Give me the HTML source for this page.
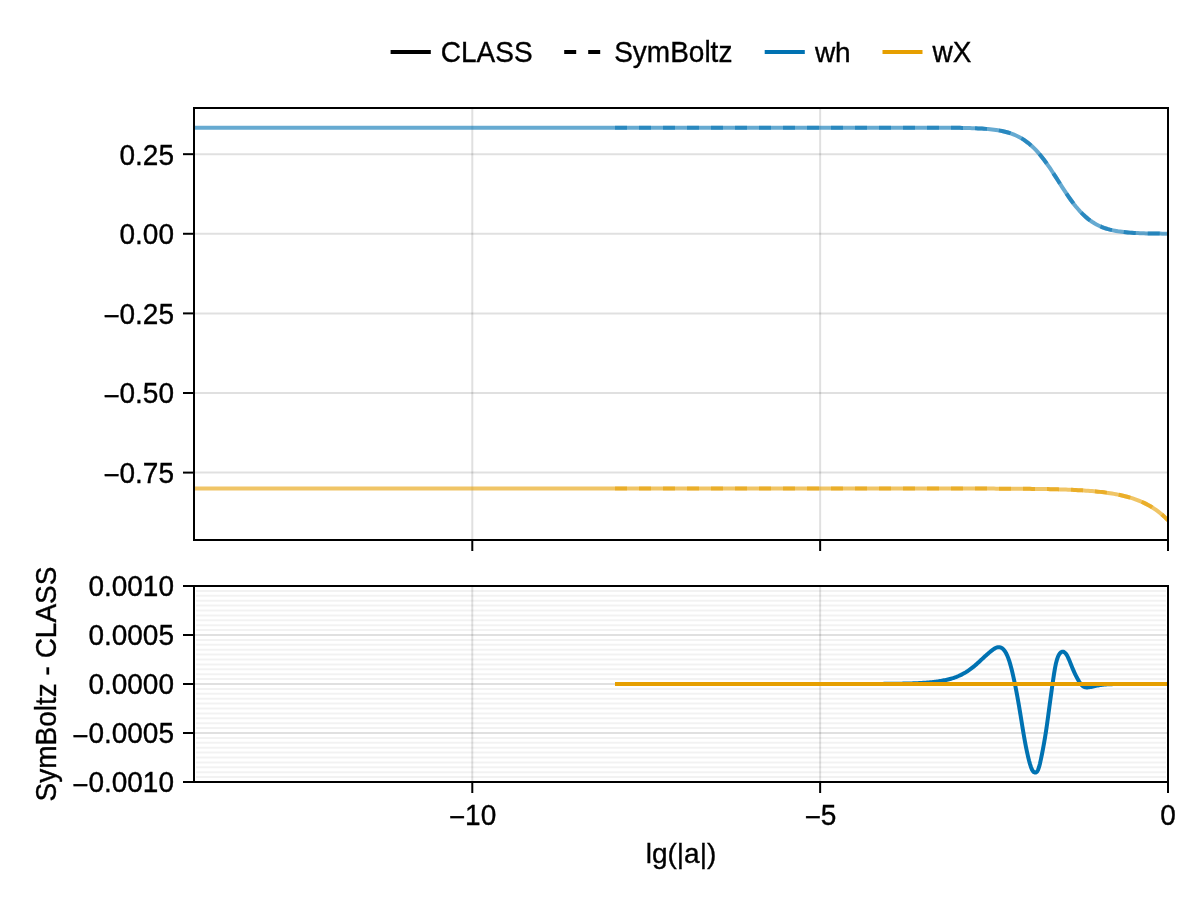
<!DOCTYPE html>
<html lang="en"><head><meta charset="utf-8"><title>wh / wX : CLASS vs SymBoltz</title>
<style>html,body{margin:0;padding:0;background:#fff}svg{display:block}text{font-family:"Liberation Sans",Arial,Helvetica,sans-serif;font-size:28px;fill:#000;stroke:#000;stroke-width:0.35px}</style></head><body>
<svg width="1200" height="900" viewBox="0 0 1200 900">
<rect width="1200" height="900" fill="#fff"/>
<defs><clipPath id="c1"><rect x="194" y="108" width="974" height="432"/></clipPath><clipPath id="c2"><rect x="194" y="586" width="974" height="196"/></clipPath></defs>
<g id="legend" stroke-width="4" fill="none">
<line x1="390.6" x2="430.8" y1="52" y2="52" stroke="#000"/>
<line x1="564.2" x2="604.2" y1="52" y2="52" stroke="#000" stroke-dasharray="12 12"/>
<line x1="764.7" x2="804.8" y1="52" y2="52" stroke="#0072B2"/>
<line x1="882.5" x2="922.5" y1="52" y2="52" stroke="#E69F00"/>
</g>
<text transform="translate(440.8 62) rotate(0.02) scale(1 1.04)">CLASS</text>
<text transform="translate(614.2 62) rotate(0.02) scale(1 1.04)">SymBoltz</text>
<text transform="translate(814.9 62) rotate(0.02) scale(1 1)">wh</text>
<text transform="translate(932.6 62) rotate(0.02) scale(1 1.04)">wX</text>
<g id="ax1">
<g stroke="rgba(0,0,0,0.12)" stroke-width="2">
<line x1="472.29" x2="472.29" y1="109" y2="539"/>
<line x1="820.14" x2="820.14" y1="109" y2="539"/>
<line x1="195" x2="1167" y1="154.17" y2="154.17"/>
<line x1="195" x2="1167" y1="233.78" y2="233.78"/>
<line x1="195" x2="1167" y1="313.39" y2="313.39"/>
<line x1="195" x2="1167" y1="393" y2="393"/>
<line x1="195" x2="1167" y1="472.6" y2="472.6"/>
</g>
<g clip-path="url(#c1)" fill="none" stroke-width="4" stroke-opacity="0.6">
<path d="M194 127.64 L214 127.64 L234 127.64 L254 127.64 L274 127.64 L294 127.64 L314 127.64 L334 127.64 L354 127.64 L374 127.64 L394 127.64 L414 127.64 L434 127.64 L454 127.64 L474 127.64 L494 127.64 L514 127.64 L534 127.64 L554 127.64 L574 127.64 L594 127.64 L614 127.64 L634 127.64 L654 127.64 L674 127.64 L694 127.64 L714 127.64 L734 127.64 L754 127.64 L774 127.64 L794 127.64 L814 127.64 L834 127.64 L854 127.64 L874 127.64 L894 127.64 L900 127.64 L902 127.64 L904 127.64 L906 127.64 L908 127.64 L910 127.65 L912 127.65 L914 127.65 L916 127.65 L918 127.65 L920 127.65 L922 127.66 L924 127.66 L926 127.66 L928 127.66 L930 127.67 L932 127.67 L934 127.68 L936 127.68 L938 127.69 L940 127.7 L942 127.71 L944 127.72 L946 127.73 L948 127.74 L950 127.76 L952 127.77 L954 127.79 L956 127.81 L958 127.84 L960 127.87 L962 127.9 L964 127.94 L966 127.98 L968 128.03 L970 128.08 L972 128.14 L974 128.21 L976 128.29 L978 128.38 L980 128.49 L982 128.6 L984 128.73 L986 128.88 L988 129.05 L990 129.25 L992 129.46 L994 129.71 L996 129.99 L998 130.3 L1000 130.65 L1002 131.04 L1004 131.49 L1006 131.98 L1008 132.54 L1010 133.16 L1012 133.85 L1014 134.63 L1016 135.48 L1018 136.43 L1020 137.47 L1022 138.63 L1024 139.89 L1026 141.28 L1028 142.79 L1030 144.43 L1032 146.21 L1034 148.12 L1036 150.18 L1038 152.37 L1040 154.71 L1042 157.17 L1044 159.77 L1046 162.49 L1048 165.31 L1050 168.23 L1052 171.24 L1054 174.3 L1056 177.41 L1058 180.55 L1060 183.69 L1062 186.81 L1064 189.9 L1066 192.93 L1068 195.89 L1070 198.75 L1072 201.51 L1074 204.16 L1076 206.67 L1078 209.06 L1080 211.3 L1082 213.39 L1084 215.34 L1086 217.15 L1088 218.82 L1090 220.36 L1092 221.76 L1094 223.04 L1096 224.2 L1098 225.25 L1100 226.19 L1102 227.05 L1104 227.81 L1106 228.5 L1108 229.11 L1110 229.65 L1112 230.14 L1114 230.57 L1116 230.95 L1118 231.29 L1120 231.58 L1122 231.85 L1124 232.08 L1126 232.29 L1128 232.47 L1130 232.63 L1132 232.77 L1134 232.89 L1136 233 L1138 233.1 L1140 233.18 L1142 233.25 L1144 233.32 L1146 233.38 L1148 233.43 L1150 233.47 L1152 233.51 L1154 233.54 L1156 233.57 L1158 233.6 L1160 233.62 L1162 233.64 L1164 233.66 L1166 233.67 L1168 233.69" stroke="#0072B2"/>
<path d="M194 488.52 L214 488.52 L234 488.52 L254 488.52 L274 488.52 L294 488.52 L314 488.52 L334 488.52 L354 488.52 L374 488.52 L394 488.52 L414 488.52 L434 488.52 L454 488.52 L474 488.52 L494 488.52 L514 488.52 L534 488.52 L554 488.52 L574 488.52 L594 488.52 L614 488.52 L634 488.52 L654 488.52 L674 488.52 L694 488.52 L714 488.52 L734 488.52 L754 488.52 L774 488.52 L794 488.52 L814 488.52 L834 488.52 L854 488.52 L874 488.53 L894 488.53 L900 488.53 L902 488.53 L904 488.53 L906 488.53 L908 488.53 L910 488.53 L912 488.53 L914 488.53 L916 488.53 L918 488.53 L920 488.53 L922 488.53 L924 488.53 L926 488.53 L928 488.54 L930 488.54 L932 488.54 L934 488.54 L936 488.54 L938 488.54 L940 488.54 L942 488.54 L944 488.54 L946 488.54 L948 488.55 L950 488.55 L952 488.55 L954 488.55 L956 488.55 L958 488.55 L960 488.56 L962 488.56 L964 488.56 L966 488.56 L968 488.57 L970 488.57 L972 488.57 L974 488.58 L976 488.58 L978 488.58 L980 488.59 L982 488.59 L984 488.6 L986 488.6 L988 488.61 L990 488.61 L992 488.62 L994 488.62 L996 488.63 L998 488.64 L1000 488.65 L1002 488.65 L1004 488.66 L1006 488.67 L1008 488.68 L1010 488.69 L1012 488.71 L1014 488.72 L1016 488.73 L1018 488.75 L1020 488.76 L1022 488.78 L1024 488.8 L1026 488.81 L1028 488.83 L1030 488.85 L1032 488.88 L1034 488.9 L1036 488.93 L1038 488.95 L1040 488.98 L1042 489.02 L1044 489.05 L1046 489.09 L1048 489.12 L1050 489.17 L1052 489.21 L1054 489.26 L1056 489.31 L1058 489.36 L1060 489.42 L1062 489.48 L1064 489.54 L1066 489.61 L1068 489.69 L1070 489.77 L1072 489.85 L1074 489.94 L1076 490.04 L1078 490.14 L1080 490.25 L1082 490.37 L1084 490.5 L1086 490.63 L1088 490.78 L1090 490.93 L1092 491.1 L1094 491.27 L1096 491.46 L1098 491.66 L1100 491.88 L1102 492.11 L1104 492.35 L1106 492.62 L1108 492.9 L1110 493.19 L1112 493.51 L1114 493.86 L1116 494.22 L1118 494.61 L1120 495.03 L1122 495.47 L1124 495.95 L1126 496.45 L1128 497 L1130 497.58 L1132 498.2 L1134 498.86 L1136 499.57 L1138 500.32 L1140 501.13 L1142 501.99 L1144 502.91 L1146 503.9 L1148 504.95 L1150 506.07 L1152 507.28 L1154 508.56 L1156 509.93 L1158 511.39 L1160 512.96 L1162 514.63 L1164 516.42 L1166 518.33 L1168 520.37" stroke="#E69F00"/>
<path d="M615 127.64 L635 127.64 L655 127.64 L675 127.64 L695 127.64 L715 127.64 L735 127.64 L755 127.64 L775 127.64 L795 127.64 L815 127.64 L835 127.64 L855 127.64 L875 127.64 L895 127.64 L900 127.64 L902 127.64 L904 127.64 L906 127.64 L908 127.64 L910 127.65 L912 127.65 L914 127.65 L916 127.65 L918 127.65 L920 127.65 L922 127.66 L924 127.66 L926 127.66 L928 127.66 L930 127.67 L932 127.67 L934 127.68 L936 127.68 L938 127.69 L940 127.7 L942 127.71 L944 127.72 L946 127.73 L948 127.74 L950 127.76 L952 127.77 L954 127.79 L956 127.81 L958 127.84 L960 127.87 L962 127.9 L964 127.94 L966 127.98 L968 128.03 L970 128.08 L972 128.14 L974 128.21 L976 128.29 L978 128.38 L980 128.49 L982 128.6 L984 128.73 L986 128.88 L988 129.05 L990 129.25 L992 129.46 L994 129.71 L996 129.99 L998 130.3 L1000 130.65 L1002 131.04 L1004 131.49 L1006 131.98 L1008 132.54 L1010 133.16 L1012 133.85 L1014 134.63 L1016 135.48 L1018 136.43 L1020 137.47 L1022 138.63 L1024 139.89 L1026 141.28 L1028 142.79 L1030 144.43 L1032 146.21 L1034 148.12 L1036 150.18 L1038 152.37 L1040 154.71 L1042 157.17 L1044 159.77 L1046 162.49 L1048 165.31 L1050 168.23 L1052 171.24 L1054 174.3 L1056 177.41 L1058 180.55 L1060 183.69 L1062 186.81 L1064 189.9 L1066 192.93 L1068 195.89 L1070 198.75 L1072 201.51 L1074 204.16 L1076 206.67 L1078 209.06 L1080 211.3 L1082 213.39 L1084 215.34 L1086 217.15 L1088 218.82 L1090 220.36 L1092 221.76 L1094 223.04 L1096 224.2 L1098 225.25 L1100 226.19 L1102 227.05 L1104 227.81 L1106 228.5 L1108 229.11 L1110 229.65 L1112 230.14 L1114 230.57 L1116 230.95 L1118 231.29 L1120 231.58 L1122 231.85 L1124 232.08 L1126 232.29 L1128 232.47 L1130 232.63 L1132 232.77 L1134 232.89 L1136 233 L1138 233.1 L1140 233.18 L1142 233.25 L1144 233.32 L1146 233.38 L1148 233.43 L1150 233.47 L1152 233.51 L1154 233.54 L1156 233.57 L1158 233.6 L1160 233.62 L1162 233.64 L1164 233.66 L1166 233.67 L1168 233.69" stroke="#0072B2" stroke-dasharray="12 12"/>
<path d="M615 488.52 L635 488.52 L655 488.52 L675 488.52 L695 488.52 L715 488.52 L735 488.52 L755 488.52 L775 488.52 L795 488.52 L815 488.52 L835 488.52 L855 488.53 L875 488.53 L895 488.53 L900 488.53 L902 488.53 L904 488.53 L906 488.53 L908 488.53 L910 488.53 L912 488.53 L914 488.53 L916 488.53 L918 488.53 L920 488.53 L922 488.53 L924 488.53 L926 488.53 L928 488.54 L930 488.54 L932 488.54 L934 488.54 L936 488.54 L938 488.54 L940 488.54 L942 488.54 L944 488.54 L946 488.54 L948 488.55 L950 488.55 L952 488.55 L954 488.55 L956 488.55 L958 488.55 L960 488.56 L962 488.56 L964 488.56 L966 488.56 L968 488.57 L970 488.57 L972 488.57 L974 488.58 L976 488.58 L978 488.58 L980 488.59 L982 488.59 L984 488.6 L986 488.6 L988 488.61 L990 488.61 L992 488.62 L994 488.62 L996 488.63 L998 488.64 L1000 488.65 L1002 488.65 L1004 488.66 L1006 488.67 L1008 488.68 L1010 488.69 L1012 488.71 L1014 488.72 L1016 488.73 L1018 488.75 L1020 488.76 L1022 488.78 L1024 488.8 L1026 488.81 L1028 488.83 L1030 488.85 L1032 488.88 L1034 488.9 L1036 488.93 L1038 488.95 L1040 488.98 L1042 489.02 L1044 489.05 L1046 489.09 L1048 489.12 L1050 489.17 L1052 489.21 L1054 489.26 L1056 489.31 L1058 489.36 L1060 489.42 L1062 489.48 L1064 489.54 L1066 489.61 L1068 489.69 L1070 489.77 L1072 489.85 L1074 489.94 L1076 490.04 L1078 490.14 L1080 490.25 L1082 490.37 L1084 490.5 L1086 490.63 L1088 490.78 L1090 490.93 L1092 491.1 L1094 491.27 L1096 491.46 L1098 491.66 L1100 491.88 L1102 492.11 L1104 492.35 L1106 492.62 L1108 492.9 L1110 493.19 L1112 493.51 L1114 493.86 L1116 494.22 L1118 494.61 L1120 495.03 L1122 495.47 L1124 495.95 L1126 496.45 L1128 497 L1130 497.58 L1132 498.2 L1134 498.86 L1136 499.57 L1138 500.32 L1140 501.13 L1142 501.99 L1144 502.91 L1146 503.9 L1148 504.95 L1150 506.07 L1152 507.28 L1154 508.56 L1156 509.93 L1158 511.39 L1160 512.96 L1162 514.63 L1164 516.42 L1166 518.33 L1168 520.37" stroke="#E69F00" stroke-dasharray="12 12"/>
</g>
<rect x="194" y="108" width="974" height="432" fill="none" stroke="#000" stroke-width="2"/>
<g stroke="#000" stroke-width="2">
<line x1="472.29" x2="472.29" y1="541" y2="551"/>
<line x1="820.14" x2="820.14" y1="541" y2="551"/>
<line x1="1168" x2="1168" y1="541" y2="551"/>
<line x1="183" x2="193" y1="154.17" y2="154.17"/>
<line x1="183" x2="193" y1="233.78" y2="233.78"/>
<line x1="183" x2="193" y1="313.39" y2="313.39"/>
<line x1="183" x2="193" y1="393" y2="393"/>
<line x1="183" x2="193" y1="472.6" y2="472.6"/>
</g>
<text transform="translate(174 164.57) rotate(0.02) scale(1 1.04)" text-anchor="end">0.25</text>
<text transform="translate(174 244.18) rotate(0.02) scale(1 1.04)" text-anchor="end">0.00</text>
<text transform="translate(174 323.79) rotate(0.02) scale(1 1.04)" text-anchor="end" dy="2.4 -2.4">−0.25</text>
<text transform="translate(174 403.39) rotate(0.02) scale(1 1.04)" text-anchor="end" dy="2.4 -2.4">−0.50</text>
<text transform="translate(174 483) rotate(0.02) scale(1 1.04)" text-anchor="end" dy="2.4 -2.4">−0.75</text>
</g>
<g id="ax2">
<g stroke="rgba(0,0,0,0.05)" stroke-width="2">
<line x1="196" x2="1166" y1="777.1" y2="777.1"/>
<line x1="196" x2="1166" y1="772.2" y2="772.2"/>
<line x1="196" x2="1166" y1="767.3" y2="767.3"/>
<line x1="196" x2="1166" y1="762.4" y2="762.4"/>
<line x1="196" x2="1166" y1="757.5" y2="757.5"/>
<line x1="196" x2="1166" y1="752.6" y2="752.6"/>
<line x1="196" x2="1166" y1="747.7" y2="747.7"/>
<line x1="196" x2="1166" y1="742.8" y2="742.8"/>
<line x1="196" x2="1166" y1="737.9" y2="737.9"/>
<line x1="196" x2="1166" y1="728.1" y2="728.1"/>
<line x1="196" x2="1166" y1="723.2" y2="723.2"/>
<line x1="196" x2="1166" y1="718.3" y2="718.3"/>
<line x1="196" x2="1166" y1="713.4" y2="713.4"/>
<line x1="196" x2="1166" y1="708.5" y2="708.5"/>
<line x1="196" x2="1166" y1="703.6" y2="703.6"/>
<line x1="196" x2="1166" y1="698.7" y2="698.7"/>
<line x1="196" x2="1166" y1="693.8" y2="693.8"/>
<line x1="196" x2="1166" y1="688.9" y2="688.9"/>
<line x1="196" x2="1166" y1="679.1" y2="679.1"/>
<line x1="196" x2="1166" y1="674.2" y2="674.2"/>
<line x1="196" x2="1166" y1="669.3" y2="669.3"/>
<line x1="196" x2="1166" y1="664.4" y2="664.4"/>
<line x1="196" x2="1166" y1="659.5" y2="659.5"/>
<line x1="196" x2="1166" y1="654.6" y2="654.6"/>
<line x1="196" x2="1166" y1="649.7" y2="649.7"/>
<line x1="196" x2="1166" y1="644.8" y2="644.8"/>
<line x1="196" x2="1166" y1="639.9" y2="639.9"/>
<line x1="196" x2="1166" y1="630.1" y2="630.1"/>
<line x1="196" x2="1166" y1="625.2" y2="625.2"/>
<line x1="196" x2="1166" y1="620.3" y2="620.3"/>
<line x1="196" x2="1166" y1="615.4" y2="615.4"/>
<line x1="196" x2="1166" y1="610.5" y2="610.5"/>
<line x1="196" x2="1166" y1="605.6" y2="605.6"/>
<line x1="196" x2="1166" y1="600.7" y2="600.7"/>
<line x1="196" x2="1166" y1="595.8" y2="595.8"/>
<line x1="196" x2="1166" y1="590.9" y2="590.9"/>
</g>
<g stroke="rgba(0,0,0,0.12)" stroke-width="2">
<line x1="472.29" x2="472.29" y1="587" y2="781"/>
<line x1="820.14" x2="820.14" y1="587" y2="781"/>
<line x1="195" x2="1167" y1="635" y2="635"/>
<line x1="195" x2="1167" y1="684" y2="684"/>
<line x1="195" x2="1167" y1="733" y2="733"/>
</g>
<g clip-path="url(#c2)" fill="none" stroke-width="4">
<path d="M615 683.88 L700 684 L701 684 L702 684 L703 684 L704 684 L705 684 L706 684 L707 684 L708 684.01 L709 684.01 L710 684.01 L711 684.01 L712 684.01 L713 684.01 L714 684.01 L715 684.01 L716 684.01 L717 684.01 L718 684.01 L719 684.01 L720 684.01 L721 684.01 L722 684.01 L723 684.01 L724 684.01 L725 684.01 L726 684.01 L727 684.01 L728 684.01 L729 684.01 L730 684.01 L731 684.01 L732 684.01 L733 684.01 L734 684.01 L735 684.02 L736 684.02 L737 684.02 L738 684.02 L739 684.02 L740 684.02 L741 684.02 L742 684.02 L743 684.02 L744 684.02 L745 684.02 L746 684.02 L747 684.02 L748 684.02 L749 684.02 L750 684.02 L751 684.02 L752 684.02 L753 684.02 L754 684.02 L755 684.02 L756 684.02 L757 684.02 L758 684.02 L759 684.02 L760 684.02 L761 684.02 L762 684.01 L763 684.01 L764 684.01 L765 684.01 L766 684.01 L767 684.01 L768 684.01 L769 684.01 L770 684.01 L771 684.01 L772 684.01 L773 684.01 L774 684.01 L775 684.01 L776 684.01 L777 684.01 L778 684.01 L779 684.01 L780 684.01 L781 684.01 L782 684.01 L783 684.01 L784 684.01 L785 684.01 L786 684.01 L787 684.01 L788 684.01 L789 684.01 L790 684.01 L791 684 L792 684 L793 684 L794 684 L795 684 L796 684 L797 684 L798 684 L799 684 L800 684 L801 684 L802 684 L803 684 L804 684 L805 684 L806 684 L807 684 L808 684 L809 683.99 L810 683.99 L811 683.99 L812 683.99 L813 683.99 L814 683.99 L815 683.99 L816 683.99 L817 683.99 L818 683.99 L819 683.99 L820 683.99 L821 683.99 L822 683.98 L823 683.98 L824 683.98 L825 683.98 L826 683.98 L827 683.98 L828 683.98 L829 683.98 L830 683.98 L831 683.98 L832 683.98 L833 683.98 L834 683.97 L835 683.97 L836 683.97 L837 683.97 L838 683.97 L839 683.97 L840 683.97 L841 683.97 L842 683.97 L843 683.97 L844 683.97 L845 683.96 L846 683.96 L847 683.96 L848 683.96 L849 683.96 L850 683.96 L851 683.96 L852 683.96 L853 683.96 L854 683.96 L855 683.96 L856 683.95 L857 683.95 L858 683.95 L859 683.95 L860 683.95 L861 683.95 L862 683.95 L863 683.95 L864 683.95 L865 683.94 L866 683.94 L867 683.94 L868 683.94 L869 683.94 L870 683.94 L871 683.93 L872 683.93 L873 683.93 L874 683.93 L875 683.92 L876 683.92 L877 683.91 L878 683.91 L879 683.91 L880 683.9 L881 683.89 L882 683.89 L883 683.88 L884 683.87 L885 683.87 L886 683.86 L887 683.85 L888 683.84 L889 683.83 L890 683.82 L891 683.81 L892 683.8 L893 683.78 L894 683.77 L895 683.76 L896 683.74 L897 683.72 L898 683.71 L899 683.69 L900 683.67 L901 683.65 L902 683.63 L903 683.61 L904 683.58 L905 683.56 L906 683.54 L907 683.51 L908 683.49 L909 683.46 L910 683.44 L911 683.41 L912 683.38 L913 683.35 L914 683.31 L915 683.27 L916 683.23 L917 683.19 L918 683.14 L919 683.08 L920 683.02 L921 682.96 L922 682.9 L923 682.83 L924 682.77 L925 682.7 L926 682.63 L927 682.56 L928 682.49 L929 682.41 L930 682.33 L931 682.24 L932 682.14 L933 682.03 L934 681.92 L935 681.79 L936 681.66 L937 681.51 L938 681.36 L939 681.2 L940 681.04 L941 680.87 L942 680.7 L943 680.52 L944 680.34 L945 680.14 L946 679.94 L947 679.73 L948 679.5 L949 679.26 L950 679 L951 678.72 L952 678.42 L953 678.11 L954 677.77 L955 677.41 L956 677.04 L957 676.64 L958 676.23 L959 675.79 L960 675.34 L961 674.87 L962 674.37 L963 673.85 L964 673.3 L965 672.73 L966 672.14 L967 671.51 L968 670.85 L969 670.17 L970 669.46 L971 668.72 L972 667.95 L973 667.16 L974 666.34 L975 665.5 L976 664.63 L977 663.74 L978 662.83 L979 661.91 L980 660.98 L981 660.05 L982 659.11 L983 658.18 L984 657.25 L985 656.33 L986 655.43 L987 654.53 L988 653.66 L989 652.8 L990 651.97 L991 651.15 L992 650.37 L993 649.62 L994 648.92 L995 648.31 L996 647.81 L997 647.43 L998 647.19 L999 647.14 L1000 647.27 L1001 647.61 L1002 648.17 L1003 648.96 L1004 650.01 L1005 651.35 L1006 653.01 L1007 655.02 L1008 657.42 L1009 660.21 L1010 663.39 L1011 666.94 L1012 670.86 L1013 675.1 L1014 679.62 L1015 684.39 L1016 689.37 L1017 694.59 L1018 700.05 L1019 705.8 L1020 711.82 L1021 718 L1022 724.22 L1023 730.34 L1024 736.24 L1025 741.81 L1026 747.04 L1027 751.91 L1028 756.4 L1029 760.49 L1030 764.13 L1031 767.2 L1032 769.61 L1033 771.27 L1034 772.23 L1035 772.59 L1036 772.45 L1037 771.67 L1038 769.99 L1039 767.2 L1040 763.41 L1041 758.92 L1042 754 L1043 748.88 L1044 743.48 L1045 737.69 L1046 731.36 L1047 724.47 L1048 717.19 L1049 709.73 L1050 702.29 L1051 694.97 L1052 687.79 L1053 680.76 L1054 674.08 L1055 668.1 L1056 663.2 L1057 659.45 L1058 656.67 L1059 654.66 L1060 653.22 L1061 652.27 L1062 651.77 L1063 651.7 L1064 652.02 L1065 652.75 L1066 653.88 L1067 655.43 L1068 657.36 L1069 659.59 L1070 662.01 L1071 664.52 L1072 667 L1073 669.38 L1074 671.64 L1075 673.79 L1076 675.83 L1077 677.78 L1078 679.63 L1079 681.35 L1080 682.91 L1081 684.25 L1082 685.35 L1083 686.19 L1084 686.8 L1085 687.18 L1086 687.38 L1087 687.43 L1088 687.38 L1089 687.27 L1090 687.12 L1091 686.93 L1092 686.72 L1093 686.5 L1094 686.28 L1095 686.07 L1096 685.86 L1097 685.66 L1098 685.48 L1099 685.3 L1100 685.14 L1101 684.99 L1102 684.86 L1103 684.73 L1104 684.62 L1105 684.53 L1106 684.44 L1107 684.37 L1108 684.3 L1109 684.24 L1110 684.2 L1111 684.16 L1112 684.13 L1113 684.11 L1114 684.09 L1115 684.07 L1116 684.06 L1117 684.06 L1118 684.05 L1119 684.05 L1120 684.05 L1121 684.05 L1122 684.05 L1123 684.04 L1124 684.04 L1125 684.04 L1126 684.04 L1127 684.04 L1128 684.03 L1129 684.03 L1130 684.03 L1131 684.02 L1132 684.02 L1133 684.02 L1134 684.02 L1135 684.01 L1136 684.01 L1137 684.01 L1138 684.01 L1139 684 L1140 684 L1141 684 L1142 684 L1143 683.99 L1144 683.99 L1145 683.99 L1146 683.99 L1147 683.98 L1148 683.98 L1149 683.98 L1150 683.98 L1151 683.98 L1152 683.98 L1153 683.98 L1154 683.98 L1155 683.98 L1156 683.98 L1157 683.98 L1158 683.98 L1159 683.98 L1160 683.98 L1161 683.98 L1162 683.98 L1163 683.98 L1164 683.99 L1165 683.99 L1166 683.99 L1167 684 L1168 684" stroke="#0072B2" stroke-linejoin="round"/>
<path d="M615 684 L1168 684" stroke="#E69F00"/>
</g>
<rect x="194" y="586" width="974" height="196" fill="none" stroke="#000" stroke-width="2"/>
<g stroke="#000" stroke-width="2">
<line x1="472.29" x2="472.29" y1="783" y2="793"/>
<line x1="820.14" x2="820.14" y1="783" y2="793"/>
<line x1="1168" x2="1168" y1="783" y2="793"/>
<line x1="183" x2="193" y1="586" y2="586"/>
<line x1="183" x2="193" y1="635" y2="635"/>
<line x1="183" x2="193" y1="684" y2="684"/>
<line x1="183" x2="193" y1="733" y2="733"/>
<line x1="183" x2="193" y1="782" y2="782"/>
</g>
<text transform="translate(174 596.4) rotate(0.02) scale(1 1.04)" text-anchor="end">0.0010</text>
<text transform="translate(174 645.4) rotate(0.02) scale(1 1.04)" text-anchor="end">0.0005</text>
<text transform="translate(174 694.4) rotate(0.02) scale(1 1.04)" text-anchor="end">0.0000</text>
<text transform="translate(174 743.4) rotate(0.02) scale(1 1.04)" text-anchor="end" dy="2.4 -2.4">−0.0005</text>
<text transform="translate(174 792.4) rotate(0.02) scale(1 1.04)" text-anchor="end" dy="2.4 -2.4">−0.0010</text>
<text transform="translate(472.49 824.7) rotate(0.02) scale(1 1.04)" text-anchor="middle" dy="2.4 -2.4">−10</text>
<text transform="translate(820.35 824.7) rotate(0.02) scale(1 1.04)" text-anchor="middle" dy="2.4 -2.4">−5</text>
<text transform="translate(1168 824.7) rotate(0.02) scale(1 1.04)" text-anchor="middle">0</text>
<text transform="translate(681 863) rotate(0.02) scale(1 1)" text-anchor="middle">lg(|a|)</text>
<text transform="translate(56 684) rotate(-90.02) scale(1 1.04)" text-anchor="middle">SymBoltz - CLASS</text>
</g>
</svg></body></html>
